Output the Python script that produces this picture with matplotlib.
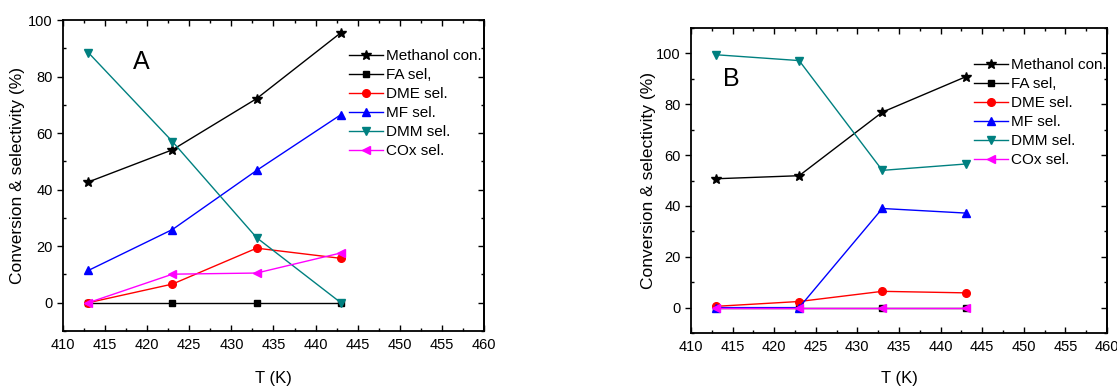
import matplotlib
matplotlib.use("Agg")
import matplotlib.pyplot as plt
from matplotlib.ticker import MultipleLocator

plt.rcParams['font.family'] = ['Liberation Sans', 'DejaVu Sans']

T = [413, 423, 433, 443]
labels = ["Methanol con.", "FA sel,", "DME sel.", "MF sel.", "DMM sel.", "COx sel."]

# Panel A
a_methanol = [42.7, 54.1, 72.2, 95.5]
a_fa = [0.0, 0.0, 0.0, 0.0]
a_dme = [0.0, 6.6, 19.3, 15.7]
a_mf = [11.4, 25.9, 46.8, 66.5]
a_dmm = [88.5, 57.0, 23.0, 0.0]
a_cox = [0.0, 10.1, 10.5, 17.6]

# Panel B
b_methanol = [50.7, 51.9, 76.9, 90.8]
b_fa = [0.0, 0.0, 0.0, 0.0]
b_dme = [0.5, 2.4, 6.4, 5.8]
b_mf = [0.0, 0.0, 39.0, 37.2]
b_dmm = [99.5, 97.2, 54.0, 56.5]
b_cox = [0.0, 0.0, 0.0, 0.0]

colors = ['black', 'black', 'red', 'blue', '#008080', 'magenta']
markers = ['*', 's', 'o', '^', 'v', '<']
msizes = [7, 5, 5.5, 6, 6, 6]

fig = plt.figure(figsize=(11.17, 3.87), dpi=100)
ax1 = fig.add_axes([0.0564, 0.1447, 0.3769, 0.8036])
ax2 = fig.add_axes([0.6186, 0.1395, 0.3724, 0.7880])


def draw(ax, series, ylim, letter, letter_xy, leg_anchor, label_y):
    for s, c, m, ms, lab in zip(series, colors, markers, msizes, labels):
        ax.plot(T, s, color=c, marker=m, markersize=ms, linewidth=1.0, label=lab)
    ax.set_xlim(410, 460)
    ax.set_ylim(*ylim)
    ax.xaxis.set_major_locator(MultipleLocator(5))
    ax.xaxis.set_minor_locator(MultipleLocator(2.5))
    ax.yaxis.set_major_locator(MultipleLocator(20))
    ax.yaxis.set_minor_locator(MultipleLocator(10))
    ax.set_yticks([0, 20, 40, 60, 80, 100])
    ax.tick_params(axis='x', which='both', direction='in', top=True, labelsize=10.5, pad=5)
    ax.tick_params(axis='x', which='major', length=4, width=1)
    ax.tick_params(axis='x', which='minor', length=2.5, width=1)
    ax.tick_params(axis='y', which='major', direction='out', length=4, width=1, labelsize=10.5)
    ax.tick_params(axis='y', which='minor', direction='in', length=2.5, width=1)
    sec = ax.secondary_yaxis('right')
    sec.yaxis.set_major_locator(MultipleLocator(20))
    sec.yaxis.set_minor_locator(MultipleLocator(10))
    sec.tick_params(which='both', direction='in', labelright=False)
    sec.tick_params(which='major', length=4, width=1)
    sec.tick_params(which='minor', length=2.5, width=1)
    sec.spines['right'].set_linewidth(1.3)
    for sp in ax.spines.values():
        sp.set_linewidth(1.3)
    ax.set_xlabel("T (K)", fontsize=12)
    ax.xaxis.set_label_coords(0.5, label_y)
    ax.set_ylabel("Conversion & selectivity (%)", fontsize=12.5)
    ax.text(letter_xy[0], letter_xy[1], letter, fontsize=18, ha='center', va='center')
    ax.legend(loc='upper left', bbox_to_anchor=leg_anchor, bbox_transform=fig.transFigure,
              frameon=False, fontsize=11, handlelength=2.2, handletextpad=0.25,
              labelspacing=0.33, borderaxespad=0, borderpad=0)


draw(ax1, [a_methanol, a_fa, a_dme, a_mf, a_dmm, a_cox], (-10, 100), "A",
     (419.3, 85), (349 / 1117, 1 - 49 / 387), -0.13)
ax1.yaxis.set_label_coords(-0.09, 0.5)
draw(ax2, [b_methanol, b_fa, b_dme, b_mf, b_dmm, b_cox], (-10, 110), "B",
     (414.8, 90), (974 / 1117, 1 - 58 / 387), -0.125)
ax2.yaxis.set_label_coords(-0.085, 0.5)

fig.savefig("out.png", dpi=100)
